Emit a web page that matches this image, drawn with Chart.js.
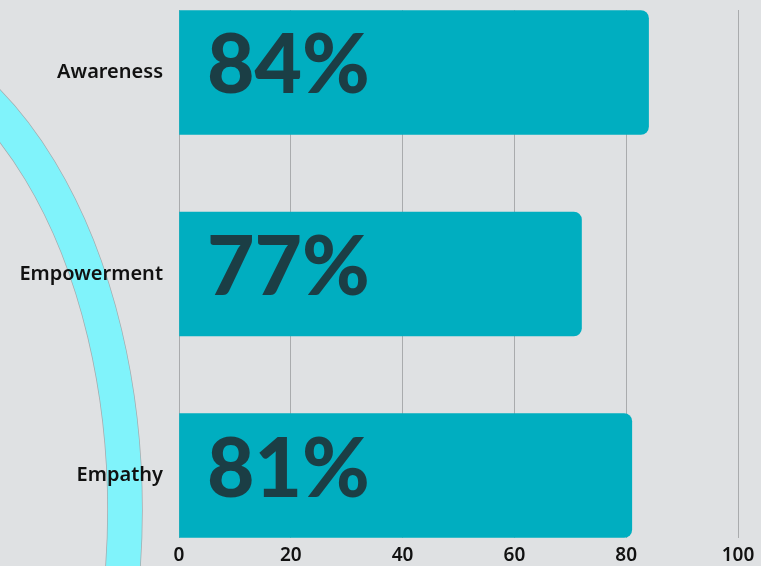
<!DOCTYPE html>
<html>
<head>
<meta charset="utf-8">
<script src="https://cdn.jsdelivr.net/npm/chart.js@4.4.1/dist/chart.umd.min.js"></script>
<style>
  html, body { margin: 0; padding: 0; background: #dfe1e3; }
  #wrap { width: 761px; height: 566px; position: relative; }
</style>
</head>
<body>
<div id="wrap"><canvas id="myChart"></canvas></div>
<script>
// Categories, bar values and the big labels printed on each bar
const categories = ['Awareness', 'Empowerment', 'Empathy'];
const values = [84, 72, 81];
const barLabels = ['84%', '77%', '81%'];
const xTicks = [0, 20, 40, 60, 80, 100];

// background + the light cyan arc on the left
const backdrop = {
    id: 'backdrop',
    beforeDraw(chart) {
        const c = chart.ctx;
        c.save();
        c.fillStyle = '#dfe1e3';
        c.fillRect(0, 0, chart.width, chart.height);
        // big elliptical ring, only its right side shows
        c.beginPath();
        c.ellipse(-165, 510, 290, 480, 0, 0, Math.PI * 2);
        c.strokeStyle = '#a3abae';
        c.lineWidth = 35.5;
        c.stroke();
        c.strokeStyle = '#80f3fb';
        c.lineWidth = 34;
        c.stroke();
        c.restore();
    }
};

// big percentage text on top of every bar
const bigLabels = {
    id: 'bigLabels',
    afterDatasetsDraw(chart) {
        const c = chart.ctx;
        const meta = chart.getDatasetMeta(0);
        c.save();
        c.fillStyle = '#1b3e45';
        c.font = '900 82px Lato';
        c.textAlign = 'left';
        c.textBaseline = 'alphabetic';
        meta.data.forEach((bar, i) => {
            c.fillText(barLabels[i], chart.chartArea.left + 28, bar.y + 21);
        });
        c.restore();
    }
};

const ctx = document.getElementById('myChart');

const data = {
    datasets: [{
        data: values.map((v, i) => ({ x: v, y: i })),
        backgroundColor: '#00aec0',
        borderRadius: 8,
        borderSkipped: 'start',
        barThickness: 124,
    }]
};

const config = {
    type: 'bar',
    data: data,
    options: {
        indexAxis: 'y',
        responsive: true,
        maintainAspectRatio: false,
        animation: false,
        layout: {
            padding: { top: 10, right: 23, left: 0, bottom: 0 }
        },
        plugins: {
            legend: { display: false },
            tooltip: { enabled: false }
        },
        scales: {
            x: {
                type: 'linear',
                min: 0,
                max: 100,
                afterBuildTicks: (axis) => { axis.ticks = xTicks.map(v => ({ value: v })); },
                afterFit: (axis) => { axis.height = 28; axis.paddingRight = 0; axis.paddingLeft = 0; },
                grid: { color: '#a9abad', lineWidth: 1, drawTicks: false },
                border: { display: false },
                ticks: {
                    padding: 6,
                    color: '#111',
                    font: { family: 'Noto Sans', size: 19, weight: '600' }
                }
            },
            y: {
                type: 'linear',
                reverse: true,
                offset: false,
                min: -0.31,
                max: 2.31,
                afterBuildTicks: (axis) => { axis.ticks = categories.map((_, i) => ({ value: i })); },
                afterFit: (axis) => { axis.width = 179; axis.paddingTop = 0; axis.paddingBottom = 0; },
                grid: { display: false, offset: false, drawTicks: false },
                border: { display: false },
                ticks: {
                    padding: 16,
                    color: '#111',
                    font: { family: 'Noto Sans', size: 20, weight: '600' },
                    callback: (v) => categories[v]
                }
            }
        }
    },
    plugins: [backdrop, bigLabels]
};

const myChart = new Chart(ctx, config);
</script>
</body>
</html>
